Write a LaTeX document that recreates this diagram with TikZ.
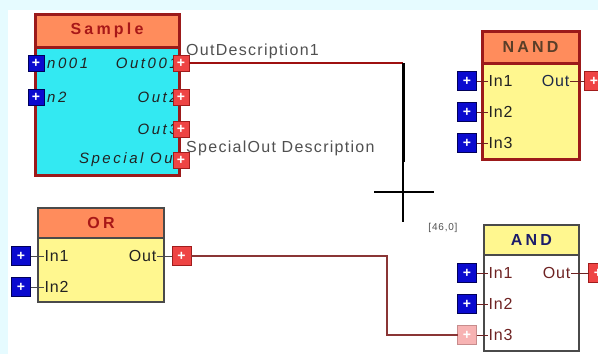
\documentclass[tikz,border=0pt]{standalone}
\usepackage{fontspec}
\setmainfont{Liberation Sans}
\newfontfamily\ttlfont[LetterSpace=20]{Liberation Sans}
\newfontfamily\itfont[LetterSpace=17]{Liberation Sans}
\newfontfamily\lblfont[LetterSpace=5]{Liberation Sans}
\newfontfamily\descfont[LetterSpace=8]{Liberation Sans}
\usepackage{xcolor}
\definecolor{bgc}{HTML}{E6FBFF}
\definecolor{orangec}{HTML}{FF8C5C}
\definecolor{cyanc}{HTML}{33E9F2}
\definecolor{yellowc}{HTML}{FFF78F}
\definecolor{redb}{HTML}{9C1A1A}
\definecolor{grayb}{HTML}{4A4A4A}
\definecolor{titred}{HTML}{A81818}
\definecolor{titbrown}{HTML}{5A3E28}
\definecolor{titnavy}{HTML}{1C1C6A}
\definecolor{inpc}{HTML}{0A0ACF}
\definecolor{inpb}{HTML}{00005A}
\definecolor{outpc}{HTML}{EE4444}
\definecolor{outpb}{HTML}{A01C1C}
\definecolor{pinkc}{HTML}{F7B3B3}
\definecolor{pinkb}{HTML}{C78C8C}
\definecolor{wirered}{HTML}{9E1010}
\definecolor{wirebrown}{HTML}{8A3535}
\definecolor{descc}{HTML}{505050}
\definecolor{lblc}{HTML}{222222}
\definecolor{outblue}{HTML}{1E2A48}
\definecolor{brownc}{HTML}{6E2222}
\usepackage{tikz}
\usetikzlibrary{positioning,calc}
\tikzset{
  hdr/.style={inner sep=0pt,outer sep=0pt,font=\ttlfont\bfseries\fontsize{16}{18}\selectfont},
  body/.style={inner sep=0pt,outer sep=0pt,anchor=north},
  inport/.style={draw=inpb,fill=inpc,line width=0.8pt,minimum size=19pt,inner sep=0pt,outer sep=0pt,text=white,font=\bfseries\fontsize{14}{14}\selectfont},
  outport/.style={inport,draw=outpb,fill=outpc},
  pinkport/.style={inport,draw=pinkb,fill=pinkc},
  lbl/.style={inner sep=0.5pt,text=lblc,font=\lblfont\fontsize{16}{18}\selectfont},
  ilbl/.style={inner sep=0pt,text=lblc,font=\itfont\itshape\fontsize{15}{17}\selectfont},
  desc/.style={inner sep=0pt,anchor=west,text=descc,font=\descfont\fontsize{16}{18}\selectfont},
  postxt/.style={inner sep=0pt,text=descc,font=\descfont\fontsize{10}{12}\selectfont},
  stub/.style={line width=0.8pt},
  wire/.style={line width=1.3pt},
  hair/.style={line width=1.3pt,draw=black},
}
\begin{document}
\begin{tikzpicture}[x=1pt,y=-1pt]
  \useasboundingbox (0,0) rectangle (598,354);
  \fill[bgc] (0,0) rectangle (598,354);
  \fill[white] (8,10) rectangle (598,354);
  % links
  \coordinate (bend) at (403,63);
  \coordinate (drag) at (403,162);
  \coordinate (cross) at (403,192);
  % Sample
  \node[hdr,fill=orangec,draw=redb,line width=3pt,minimum width=144pt,minimum height=33pt,text=titred] (sample) at (107,30.5) {Sample};
  \node[body,fill=cyanc,draw=redb,line width=3pt,minimum width=144pt,minimum height=128pt] (samplebody) at (sample.south) {};
  \foreach \n/\y/\t in {1/63/n001,2/97/n2} {
    \node[ilbl,anchor=west] (sampleli\n) at (47,\y) {\t};
    \node[inport,minimum size=16pt] (samplein\n) at (36,\y) {+};
  }
  \foreach \n/\y/\t/\e in {1/63/Out001/178,2/97/Out2/178,3/129/Out3/178,4/160/Special Ou/173} {
    \node[ilbl,anchor=east] (samplelo\n) at (\e,\y) {\t};
    \node[outport,minimum size=16pt] (sampleout\n) at (181,\y) {+};
  }
  \node[desc] (outdesc) at (186,51) {OutDescription1};
  \node[desc] (specdesc) at (186,148) {SpecialOut Description};
  \draw[wire,line width=1.8pt,draw=wirered] (sampleout1) -- (bend);
  \draw[line width=3pt] (bend) -- (drag);
  \draw[hair] (drag) -- ($(cross)+(0,30)$);
  \draw[hair] ($(cross)+(-29,0)$) -- ($(cross)+(31,0)$);
  \node[postxt] (pos) at (443,228) {[46,0]};
  % NAND
  \node[hdr,fill=orangec,draw=redb,line width=3pt,minimum width=97pt,minimum height=32pt,text=titbrown] (nand) at (530.5,47) {NAND};
  \node[body,fill=yellowc,draw=redb,line width=3pt,minimum width=97pt,minimum height=96pt] (nandbody) at (nand.south) {};
  \foreach \n/\y in {1/81,2/112,3/143} {
    \node[inport] (nandin\n) at (467,\y) {+};
    \node[lbl,anchor=west] (nandli\n) at (488,\y) {In\n};
    \draw[stub,draw=brownc] (nandin\n) -- (nandli\n);
  }
  \node[lbl,anchor=east,text=outblue] (nandlo) at (570,81) {Out};
  \node[outport] (nandout) at (594,81) {+};
  \draw[stub,draw=brownc] (nandlo) -- (nandout);
  % OR
  \node[hdr,fill=orangec,draw=grayb,line width=2pt,minimum width=126pt,minimum height=30pt,text=titred] (or) at (101,223) {OR};
  \node[body,fill=yellowc,draw=grayb,line width=2pt,minimum width=126pt,minimum height=64pt] (orbody) at (or.south) {};
  \foreach \n/\y in {1/256,2/287} {
    \node[inport] (orin\n) at (21,\y) {+};
    \node[lbl,anchor=west] (orli\n) at (44,\y) {In\n};
    \draw[stub,draw=grayb] (orin\n) -- (orli\n);
  }
  \node[lbl,anchor=east] (orlo) at (157,256) {Out};
  \node[outport] (orout) at (181.5,256) {+};
  \draw[stub,draw=grayb] (orlo) -- (orout);
  % AND
  \node[hdr,fill=yellowc,draw=grayb,line width=2pt,minimum width=95pt,minimum height=30pt,text=titnavy] (and) at (531.5,240) {AND};
  \node[body,fill=white,draw=grayb,line width=2pt,minimum width=95pt,minimum height=96pt] (andbody) at (and.south) {};
  \foreach \n/\y/\s in {1/273/inport,2/304/inport,3/335/pinkport} {
    \node[\s] (andin\n) at (467,\y) {+};
    \node[lbl,anchor=west,text=brownc] (andli\n) at (488,\y) {In\n};
    \draw[stub,draw=brownc] (andin\n) -- (andli\n);
  }
  \node[lbl,anchor=east,text=brownc] (andlo) at (571,273) {Out};
  \node[outport] (andout) at (598,273) {+};
  \draw[stub,draw=brownc] (andlo) -- (andout);
  \draw[wire,draw=wirebrown] (orout.east) -- ++(196,0) |- (andin3.west);
\end{tikzpicture}
\end{document}
